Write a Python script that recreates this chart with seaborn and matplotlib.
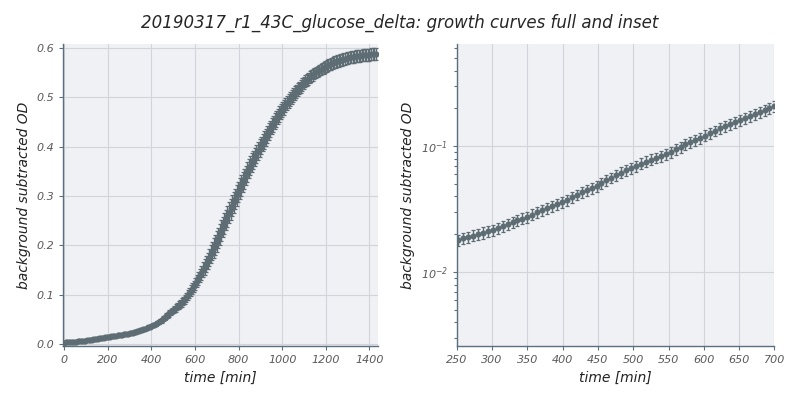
import numpy as np
import pandas as pd
import matplotlib
matplotlib.use("Agg")
import matplotlib.pyplot as plt
import seaborn as sns

TITLE = "20190317_r1_43C_glucose_delta: growth curves full and inset"
X_LABEL = "time [min]"
Y_LABEL = "background subtracted OD"

# sampling times [min]
time_min = [
    0, 7, 14, 21, 28, 35, 42, 49, 56, 63, 70, 77, 84, 91, 98,
    105, 112, 119, 126, 133, 140, 147, 154, 161, 168, 175, 182, 189, 196,
    203, 210, 217, 224, 231, 238, 245, 252, 259, 266, 273, 280, 287, 294,
    301, 308, 315, 322, 329, 336, 343, 350, 357, 364, 371, 378, 385, 392, 399,
    406, 413, 420, 427, 434, 441, 448, 455, 462, 469, 476, 483, 490, 497,
    504, 511, 518, 525, 532, 539, 546, 553, 560, 567, 574, 581, 588, 595,
    602, 609, 616, 623, 630, 637, 644, 651, 658, 665, 672, 679, 686, 693, 700,
    707, 714, 721, 728, 735, 742, 749, 756, 763, 770, 777, 784, 791, 798,
    805, 812, 819, 826, 833, 840, 847, 854, 861, 868, 875, 882, 889, 896,
    903, 910, 917, 924, 931, 938, 945, 952, 959, 966, 973, 980, 987, 994,
    1001, 1008, 1015, 1022, 1029, 1036, 1043, 1050, 1057, 1064, 1071, 1078, 1085, 1092, 1099,
    1106, 1113, 1120, 1127, 1134, 1141, 1148, 1155, 1162, 1169, 1176, 1183, 1190, 1197,
    1204, 1211, 1218, 1225, 1232, 1239, 1246, 1253, 1260, 1267, 1274, 1281, 1288, 1295,
    1302, 1309, 1316, 1323, 1330, 1337, 1344, 1351, 1358, 1365, 1372, 1379, 1386, 1393,
    1400, 1407, 1414, 1421, 1428,
]

# mean background subtracted OD
od_mean = [
    0.0030, 0.0032, 0.0034, 0.0036, 0.0038, 0.0041, 0.0043, 0.0045, 0.0048, 0.0052,
    0.0055, 0.0059, 0.0062, 0.0066, 0.0069,
    0.0074, 0.0078, 0.0083, 0.0088, 0.0093, 0.0098, 0.0103, 0.0108, 0.0114, 0.0119,
    0.0125, 0.0131, 0.0136, 0.0142,
    0.0147, 0.0152, 0.0157, 0.0162, 0.0167, 0.0172, 0.0177, 0.0181, 0.0186, 0.0191,
    0.0196, 0.0201, 0.0206, 0.0211,
    0.0216, 0.0225, 0.0233, 0.0241, 0.0250, 0.0258, 0.0267, 0.0275, 0.0287, 0.0299,
    0.0311, 0.0323, 0.0335, 0.0347, 0.0359,
    0.0376, 0.0395, 0.0413, 0.0431, 0.0449, 0.0467, 0.0485, 0.0510, 0.0537, 0.0564,
    0.0591, 0.0619, 0.0646, 0.0673,
    0.0701, 0.0729, 0.0757, 0.0785, 0.0813, 0.0841, 0.0869, 0.0904, 0.0948, 0.0992,
    0.1036, 0.1080, 0.1124, 0.1169,
    0.1216, 0.1274, 0.1331, 0.1389, 0.1446, 0.1503, 0.1561, 0.1619, 0.1685, 0.1750,
    0.1815, 0.1881, 0.1946, 0.2012, 0.2077,
    0.2150, 0.2223, 0.2297, 0.2370, 0.2443, 0.2516, 0.2590, 0.2660, 0.2730, 0.2800,
    0.2870, 0.2940, 0.3010, 0.3080,
    0.3148, 0.3215, 0.3282, 0.3350, 0.3417, 0.3484, 0.3551, 0.3614, 0.3672, 0.3731,
    0.3790, 0.3849, 0.3908, 0.3966,
    0.4024, 0.4080, 0.4136, 0.4192, 0.4248, 0.4304, 0.4360, 0.4414, 0.4463, 0.4512,
    0.4561, 0.4610, 0.4659, 0.4708,
    0.4756, 0.4798, 0.4840, 0.4882, 0.4924, 0.4966, 0.5008, 0.5050, 0.5085, 0.5120,
    0.5155, 0.5190, 0.5225, 0.5260, 0.5295,
    0.5323, 0.5349, 0.5376, 0.5403, 0.5429, 0.5456, 0.5482, 0.5504, 0.5524, 0.5543,
    0.5563, 0.5582, 0.5602, 0.5622,
    0.5638, 0.5652, 0.5666, 0.5680, 0.5694, 0.5708, 0.5722, 0.5734, 0.5744, 0.5754,
    0.5764, 0.5773, 0.5783, 0.5793,
    0.5802, 0.5807, 0.5813, 0.5818, 0.5824, 0.5830, 0.5835, 0.5841, 0.5844, 0.5848,
    0.5851, 0.5855, 0.5858, 0.5862,
    0.5865, 0.5869, 0.5872, 0.5876, 0.5879,
]

# standard deviation of replicates
od_std = [
    0.0003, 0.0003, 0.0003, 0.0004, 0.0004, 0.0004, 0.0004, 0.0005, 0.0005, 0.0005,
    0.0006, 0.0006, 0.0006, 0.0007, 0.0007,
    0.0007, 0.0008, 0.0008, 0.0009, 0.0009, 0.0010, 0.0010, 0.0011, 0.0011, 0.0012,
    0.0013, 0.0013, 0.0014, 0.0014,
    0.0015, 0.0015, 0.0016, 0.0016, 0.0017, 0.0017, 0.0018, 0.0018, 0.0019, 0.0019,
    0.0020, 0.0020, 0.0021, 0.0021,
    0.0022, 0.0023, 0.0023, 0.0024, 0.0025, 0.0026, 0.0027, 0.0028, 0.0029, 0.0030,
    0.0031, 0.0032, 0.0034, 0.0035, 0.0036,
    0.0038, 0.0040, 0.0041, 0.0043, 0.0045, 0.0047, 0.0049, 0.0051, 0.0054, 0.0056,
    0.0059, 0.0062, 0.0065, 0.0067,
    0.0070, 0.0073, 0.0076, 0.0079, 0.0081, 0.0084, 0.0087, 0.0090, 0.0095, 0.0099,
    0.0104, 0.0108, 0.0112, 0.0117,
    0.0122, 0.0127, 0.0133, 0.0139, 0.0145, 0.0150, 0.0156, 0.0162, 0.0169, 0.0175,
    0.0182, 0.0188, 0.0195, 0.0201, 0.0208,
    0.0210, 0.0210, 0.0210, 0.0210, 0.0210, 0.0210, 0.0210, 0.0210, 0.0210, 0.0210,
    0.0210, 0.0210, 0.0210, 0.0210,
    0.0208, 0.0206, 0.0204, 0.0202, 0.0200, 0.0198, 0.0196, 0.0194, 0.0192, 0.0190,
    0.0188, 0.0186, 0.0184, 0.0182,
    0.0180, 0.0178, 0.0176, 0.0174, 0.0172, 0.0170, 0.0168, 0.0166, 0.0164, 0.0162,
    0.0160, 0.0158, 0.0156, 0.0154,
    0.0152, 0.0150, 0.0148, 0.0146, 0.0144, 0.0142, 0.0140, 0.0138, 0.0136, 0.0134,
    0.0132, 0.0130, 0.0128, 0.0126, 0.0124,
    0.0122, 0.0120, 0.0120, 0.0120, 0.0120, 0.0120, 0.0120, 0.0120, 0.0120, 0.0120,
    0.0120, 0.0120, 0.0120, 0.0120,
    0.0120, 0.0120, 0.0120, 0.0120, 0.0120, 0.0120, 0.0120, 0.0120, 0.0120, 0.0120,
    0.0120, 0.0120, 0.0120, 0.0120,
    0.0120, 0.0120, 0.0120, 0.0120, 0.0120, 0.0120, 0.0120, 0.0120, 0.0120, 0.0120,
    0.0120, 0.0120, 0.0120, 0.0120,
    0.0120, 0.0120, 0.0120, 0.0120, 0.0120,
]

INSET_RANGE = (250, 700)

POINT_COLOR = "#5d6d73"
SPINE_COLOR = "#5c6f7e"
BG_COLOR = "#eff1f5"
GRID_COLOR = "#d2d4da"
TEXT_COLOR = "#5a5a5a"

sns.set_theme(style="whitegrid", rc={
    "axes.facecolor": BG_COLOR,
    "figure.facecolor": "white",
    "grid.color": GRID_COLOR,
    "grid.linewidth": 0.8,
    "axes.edgecolor": SPINE_COLOR,
    "xtick.color": SPINE_COLOR,
    "ytick.color": SPINE_COLOR,
    "xtick.labelcolor": TEXT_COLOR,
    "ytick.labelcolor": TEXT_COLOR,
})
plt.rcParams["font.family"] = ["DejaVu Sans"]
plt.rcParams["font.style"] = "italic"

df = pd.DataFrame({"time": time_min, "od": od_mean, "sd": od_std})


def draw_growth(ax, data):
    """Mean OD with replicate error bars."""
    ax.errorbar(data["time"], data["od"], yerr=data["sd"], fmt="none",
                ecolor=POINT_COLOR, elinewidth=1.0, capsize=1.3,
                capthick=0.9, zorder=2)
    sns.scatterplot(data=data, x="time", y="od", ax=ax, color=POINT_COLOR,
                    s=19, edgecolor=POINT_COLOR, linewidth=0, zorder=3)


def style_axes(ax):
    for side in ("top", "right"):
        ax.spines[side].set_visible(False)
    for side in ("left", "bottom"):
        ax.spines[side].set_color(SPINE_COLOR)
        ax.spines[side].set_linewidth(1.0)
    ax.tick_params(axis="both", which="both", direction="out", length=3,
                   width=0.8, labelsize=8, bottom=True, left=True)
    ax.tick_params(axis="y", which="minor", length=2)
    ax.set_xlabel(X_LABEL, fontsize=10, color="#222222", style="italic")
    ax.set_ylabel(Y_LABEL, fontsize=10, color="#222222", style="italic")


fig = plt.figure(figsize=(8, 4), dpi=100)
ax_full = fig.add_axes([0.079, 0.135, 0.394, 0.755])
ax_inset = fig.add_axes([0.571, 0.135, 0.397, 0.755])

# full curve
draw_growth(ax_full, df)
ax_full.set_xlim(-4, 1441)
ax_full.set_ylim(-0.004, 0.608)
ax_full.set_xticks([0, 200, 400, 600, 800, 1000, 1200, 1400])
ax_full.set_yticks([0.0, 0.1, 0.2, 0.3, 0.4, 0.5, 0.6])
ax_full.set_yticklabels(["0.0", "0.1", "0.2", "0.3", "0.4", "0.5", "0.6"])
style_axes(ax_full)

# log-scale inset of the exponential phase
sub = df[(df["time"] >= INSET_RANGE[0]) & (df["time"] <= INSET_RANGE[1])]
draw_growth(ax_inset, sub)
ax_inset.set_yscale("log")
ax_inset.set_xlim(*INSET_RANGE)
ax_inset.set_ylim(0.0026, 0.65)
ax_inset.set_xticks(list(range(250, 701, 50)))
style_axes(ax_inset)
ax_inset.grid(False, which="minor")

fig.suptitle(TITLE, fontsize=12, style="italic", y=0.965)

fig.savefig("out.png", dpi=100)
